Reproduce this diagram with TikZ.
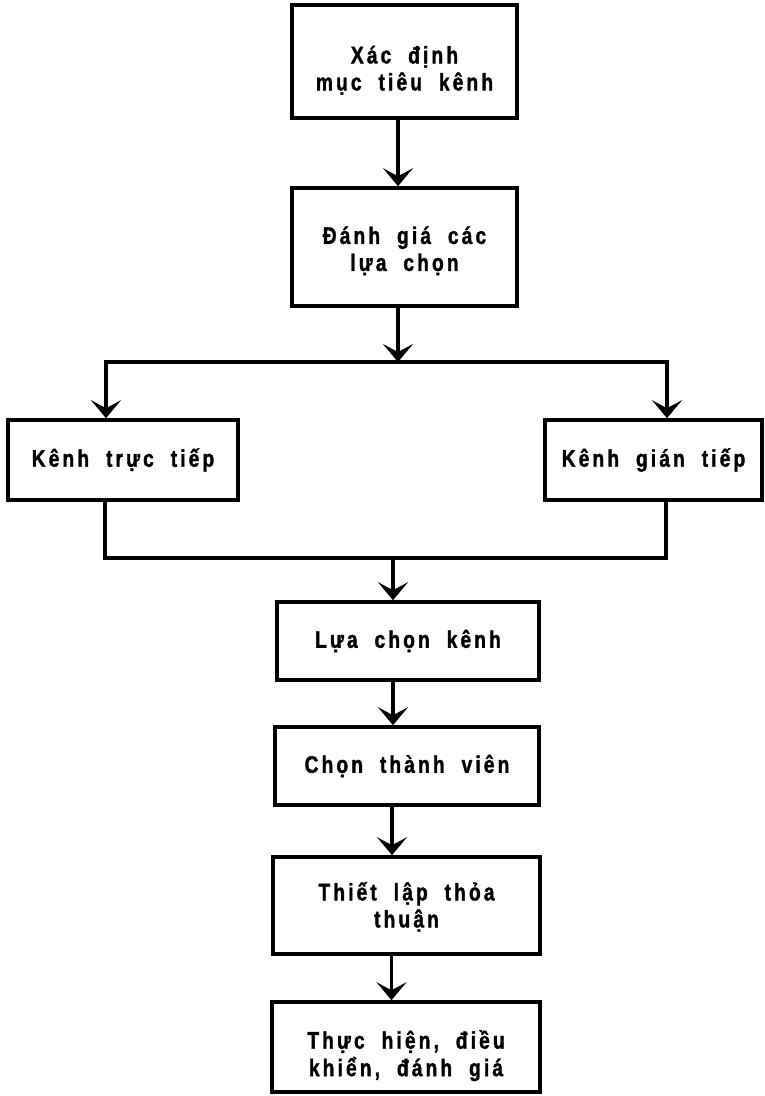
\documentclass[tikz,border=0pt]{standalone}
\usepackage{fontspec}
\setmainfont{Liberation Sans}[FakeStretch=0.8, LetterSpace=13, WordSpace=2, FakeBold=1.4]
\usetikzlibrary{arrows.meta}
% text lines of a box, drawn lower by #1 without changing the box size
\newcommand\boxlines[2]{\raisebox{-#1}[\height][\depth]{\begin{tabular}{@{}c@{}}#2\end{tabular}}}
\tikzset{
  box/.style={draw, line width=3.6pt, align=center, inner sep=0pt,
    font=\fontsize{24}{27}\selectfont\bfseries},
  link/.style={line width=3.6pt},
  arr/.style={link, -{Stealth[length=18pt, width=30pt, inset=8pt]}}
}
\begin{document}
\begin{tikzpicture}[x=1pt, y=-1pt]
\useasboundingbox (0,0) rectangle (764,1096);

% main column of steps
\node[box, minimum width=225pt, minimum height=113pt] (goal) at (404.5,61.5)
  {\boxlines{10pt}{Xác định\\mục tiêu kênh}};
\node[box, minimum width=225pt, minimum height=118pt] (eval) at (404.5,247)
  {\boxlines{5pt}{Đánh giá các\\lựa chọn}};

% the two channel types
\node[box, minimum width=230pt, minimum height=80pt] (direct) at (123,460)
  {Kênh trực tiếp};
\node[box, minimum width=217pt, minimum height=80pt] (indirect) at (653.5,460)
  {Kênh gián tiếp};

% lower steps
\node[box, minimum width=262pt, minimum height=78pt] (choose) at (408,641)
  {Lựa chọn kênh};
\node[box, minimum width=264pt, minimum height=78pt] (members) at (407,766)
  {Chọn thành viên};
\node[box, minimum width=267pt, minimum height=97pt] (deal) at (406.5,905.5)
  {\boxlines{3pt}{Thiết lập thỏa\\thuận}};
\node[box, minimum width=268pt, minimum height=90pt] (run) at (406,1047)
  {\boxlines{10pt}{Thực hiện, điều\\khiển, đánh giá}};

% branching bar below the evaluation step
\coordinate (split) at (398,362);
\coordinate (splitL) at (106,362);
\coordinate (splitR) at (667,362);
% joining bar below the two channel types
\coordinate (joinL) at (105,558);
\coordinate (joinR) at (666,558);
\coordinate (join) at (393,558);

\draw[arr] ([xshift=-6.5pt]goal.south) -- ([xshift=-6.5pt]eval.north);
\draw[arr] ([xshift=-6.5pt]eval.south) -- (split);
\draw[link, line cap=rect] (splitL) -- (splitR);
\draw[arr] (splitL) -- (splitL |- direct.north);
\draw[arr] (splitR) -- (splitR |- indirect.north);

\draw[link, line cap=rect] (joinL |- direct.south) -- (joinL) -- (joinR) -- (joinR |- indirect.south);
\draw[arr] (join) -- (join |- choose.north);

\draw[arr] ([xshift=-15pt]choose.south) -- ([xshift=-15pt]members.north -| choose.south);
\draw[arr] ([xshift=-15pt]members.south) -- ([xshift=-15pt]deal.north -| members.south);
\draw[arr] ([xshift=-15pt]deal.south) -- ([xshift=-15pt]run.north -| deal.south);
\end{tikzpicture}
\end{document}
